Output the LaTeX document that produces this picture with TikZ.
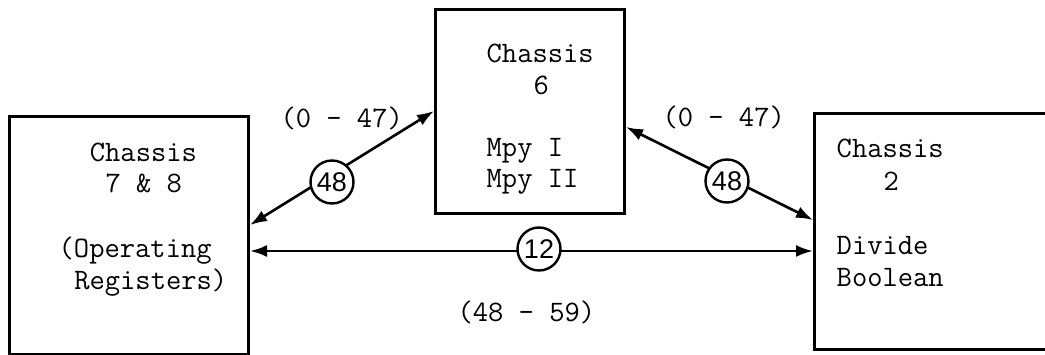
\documentclass[tikz,border=0pt]{standalone}
\usepackage{fontspec}
\newfontfamily\circfont{Liberation Sans}
\usetikzlibrary{arrows.meta}
\begin{document}
\begin{tikzpicture}[x=1pt,y=-1pt,
  chassis/.style={draw, line width=3pt, rectangle, inner sep=0pt, anchor=north west},
  ln/.style={font=\fontsize{29.7}{32}\ttfamily, anchor=base west, inner sep=0pt},
  bus/.style={line width=2.6pt, {Latex[length=17pt,width=12pt]}-{Latex[length=17pt,width=12pt]}},
  count/.style={circle, draw, line width=2.4pt, fill=white, minimum size=43pt, inner sep=0pt,
    font=\fontsize{27}{27}\circfont}]
\useasboundingbox (0,0) rectangle (1045,355);
\clip (0,0) rectangle (1045,355);

% chassis boxes
\node[chassis, minimum width=239pt, minimum height=238pt] (left) at (8,115) {};
\node[chassis, minimum width=189pt, minimum height=204pt] (mid) at (434,8) {};
\node[chassis, minimum width=260pt, minimum height=236pt] (right) at (813,112) {};

% box texts (monospaced columns, pitch 15.6pt)
\node[ln] (l1) at (89.7,162) {Chassis};
\node[ln] (l2) at (105.3,193) {7 \& 8};
\node[ln] (l3) at (58.5,258) {(Operating};
\node[ln] (l4) at (74.1,290) {Registers)};

\node[ln] (m1) at (486.5,63) {Chassis};
\node[ln] (m2) at (533.3,95) {6};
\node[ln] (m3) at (486.5,157) {Mpy I};
\node[ln] (m4) at (486.5,188) {Mpy II};

\node[ln] (r1) at (836.5,158) {Chassis};
\node[ln] (r2) at (883.3,191) {2};
\node[ln] (r3) at (836.5,255) {Divide};
\node[ln] (r4) at (836.5,287) {Boolean};

% line ranges
\node[ln] (rangeA) at (280.3,128) {(0 - 47)};
\node[ln] (rangeB) at (662.3,127) {(0 - 47)};
\node[ln] (rangeC) at (457.3,322) {(48 - 59)};

% connecting cables
\draw[bus] (mid.west |- 0,111) -- (left.east |- 0,225);
\draw[bus] (mid.east |- 0,127) -- (right.west |- 0,220);
\draw[bus] (left.east |- 0,251) -- (right.west |- 0,251);

% wire counts
\node[count] (c1) at (332,182) {48};
\node[count] (c2) at (727,181) {48};
\node[count] (c3) at (539,249) {12};
\end{tikzpicture}
\end{document}
